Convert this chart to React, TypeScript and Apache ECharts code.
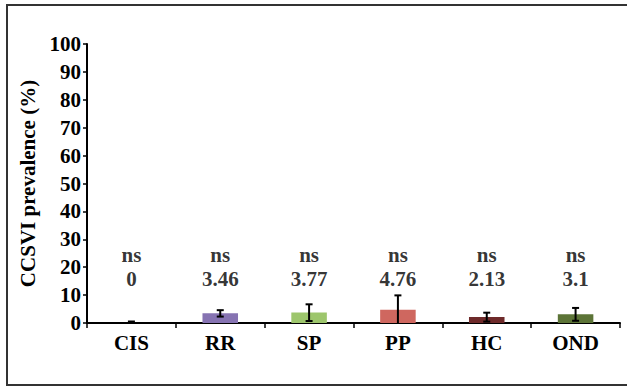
import React, { useEffect, useRef } from "react";
import * as echarts from "echarts";

const categories = ["CIS", "RR", "SP", "PP", "HC", "OND"];
const prevalence = [0, 3.46, 3.77, 4.76, 2.13, 3.1];
const errLow = [0, 2.3, 0.7, -0.2, 0.5, 0.8];
const errHigh = [0, 4.6, 6.7, 9.9, 3.7, 5.4];
const sigLabels = ["ns", "ns", "ns", "ns", "ns", "ns"];
const barColors = ["#7f7f7f", "#8673B2", "#9DC66C", "#CF675F", "#6E2A2A", "#5C7437"];
const yTicks = [0, 10, 20, 30, 40, 50, 60, 70, 80, 90, 100];
const sigLevel = 24.5;
const valueLevel = 15.6;

const FONT = "'Liberation Serif', 'Times New Roman', serif";

export default function App() {
  const ref = useRef<HTMLDivElement>(null);
  useEffect(() => {
    document.body.style.margin = "0";
    const chart = echarts.init(ref.current!, null, { renderer: "svg" });
    const textStyle = { fontFamily: FONT, fontWeight: "bold" as const, fontSize: 21, color: "#000" };
    chart.setOption({
      animation: false,
      backgroundColor: "#fff",
      graphic: [
        {
          type: "rect",
          shape: { x: 7, y: 5, width: 640, height: 380 },
          style: { fill: "none", stroke: "#333", lineWidth: 2 },
          z: 0,
        },
      ],
      grid: { left: 87, right: 7, top: 44, bottom: 63, containLabel: false },
      xAxis: {
        type: "category",
        data: categories,
        axisLine: { lineStyle: { color: "#000", width: 2 } },
        axisTick: { show: true, length: 5, lineStyle: { color: "#000", width: 1.5 } },
        axisLabel: { ...textStyle, margin: 9 },
      },
      yAxis: {
        type: "value",
        min: yTicks[0],
        max: yTicks[yTicks.length - 1],
        interval: 10,
        name: "CCSVI prevalence (%)",
        nameLocation: "middle",
        nameGap: 43,
        nameTextStyle: { ...textStyle },
        axisLine: { show: true, lineStyle: { color: "#000", width: 2 } },
        axisTick: { show: true, length: 4, lineStyle: { color: "#000", width: 1.5 } },
        axisLabel: { ...textStyle, margin: 6 },
        splitLine: { show: false },
      },
      series: [
        {
          type: "bar",
          barWidth: "40%",
          data: prevalence.map((v, i) => ({ value: v, itemStyle: { color: barColors[i] } })),
        },
        {
          type: "custom",
          data: categories.map((_, i) => [i, errLow[i], errHigh[i]]),
          renderItem: (params: any, api: any) => {
            const i = api.value(0);
            const lo = Math.max(api.value(1), 0);
            const hi = api.value(2);
            const pLo = api.coord([i, lo]);
            const pHi = api.coord([i, hi]);
            const cap = 3.5;
            const style = { stroke: "#000", lineWidth: 2 };
            const yHi = Math.min(pHi[1], pLo[1] - 1.5);
            const children: any[] = [
              { type: "line", shape: { x1: pHi[0], y1: yHi, x2: pLo[0], y2: pLo[1] }, style },
              { type: "line", shape: { x1: pHi[0] - cap, y1: yHi, x2: pHi[0] + cap, y2: yHi }, style },
            ];
            if (api.value(1) >= 0) {
              children.push({ type: "line", shape: { x1: pLo[0] - cap, y1: pLo[1], x2: pLo[0] + cap, y2: pLo[1] }, style });
            }
            return { type: "group", children };
          },
          z: 5,
        },
        {
          type: "scatter",
          symbolSize: 0,
          data: categories.map((_, i) => [i, sigLevel, sigLabels[i]]),
          label: {
            show: true,
            position: "inside",
            formatter: (p: any) => p.value[2],
            ...textStyle,
          },
        },
        {
          type: "scatter",
          symbolSize: 0,
          data: categories.map((_, i) => [i, valueLevel, prevalence[i]]),
          label: {
            show: true,
            position: "inside",
            formatter: (p: any) => String(p.value[2]),
            ...textStyle,
          },
        },
      ],
    });
    return () => chart.dispose();
  }, []);
  return <div ref={ref} style={{ width: 627, height: 386 }} />;
}
